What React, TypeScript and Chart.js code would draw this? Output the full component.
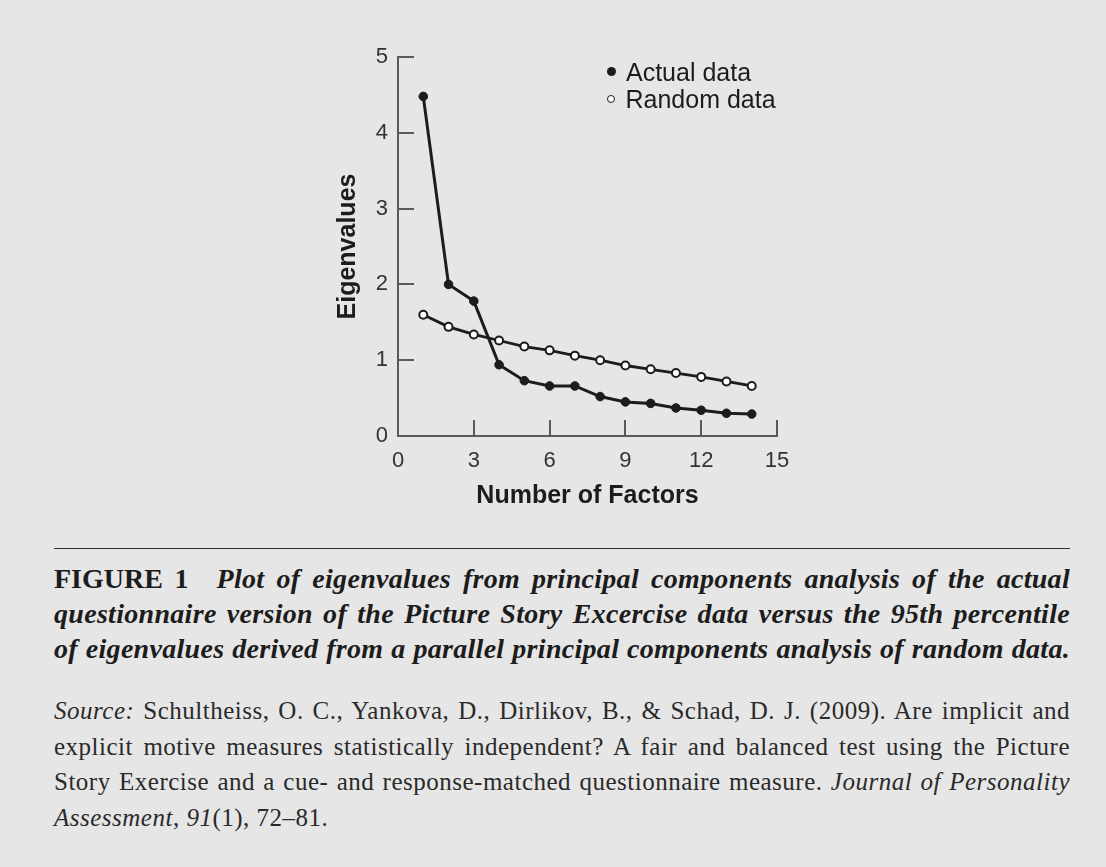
import React, { useEffect, useRef } from "react";
import { Chart, registerables } from "chart.js";

Chart.register(...registerables);

const factors = [1, 2, 3, 4, 5, 6, 7, 8, 9, 10, 11, 12, 13, 14];
const actualEigenvalues = [4.48, 2.0, 1.78, 0.94, 0.73, 0.66, 0.66, 0.52, 0.45, 0.43, 0.37, 0.34, 0.3, 0.29];
const randomEigenvalues = [1.6, 1.44, 1.34, 1.26, 1.18, 1.13, 1.06, 1.0, 0.93, 0.88, 0.83, 0.78, 0.72, 0.66];
const xTickValues = [0, 3, 6, 9, 12, 15];
const yTickValues = [0, 1, 2, 3, 4, 5];
const seriesNames = ["Actual data", "Random data"];
const xAxisTitle = "Number of Factors";
const yAxisTitle = "Eigenvalues";

const BG = "#e6e6e6";
const INK = "#1c1c1c";
const AXIS = "#5a5a5a";
const SANS = "'Liberation Sans', Arial, sans-serif";
const SERIF = "'Liberation Serif', 'Times New Roman', serif";

const inwardTicks = {
  id: "inwardTicks",
  beforeDatasetsDraw(chart: any) {
    const { ctx, chartArea, scales } = chart;
    const x = scales.x;
    const y = scales.y;
    ctx.save();
    ctx.strokeStyle = AXIS;
    ctx.lineWidth = 2;
    yTickValues.forEach((v) => {
      if (v === 0) return;
      const py = Math.round(y.getPixelForValue(v));
      ctx.beginPath();
      ctx.moveTo(chartArea.left, py);
      ctx.lineTo(chartArea.left + 16, py);
      ctx.stroke();
    });
    xTickValues.forEach((v) => {
      if (v === 0) return;
      const px = Math.round(x.getPixelForValue(v));
      ctx.beginPath();
      ctx.moveTo(px, chartArea.bottom);
      ctx.lineTo(px, chartArea.bottom - 16);
      ctx.stroke();
    });
    ctx.restore();
  },
};

function ChartView() {
  const ref = useRef<HTMLCanvasElement | null>(null);
  useEffect(() => {
    if (!ref.current) return;
    const chart = new Chart(ref.current, {
      type: "line",
      data: {
        datasets: [
          {
            label: seriesNames[0],
            data: factors.map((f, i) => ({ x: f, y: actualEigenvalues[i] })),
            borderColor: INK,
            backgroundColor: INK,
            borderWidth: 3,
            pointRadius: 4.3,
            pointBackgroundColor: INK,
            pointBorderColor: INK,
            pointBorderWidth: 1,
            tension: 0,
          },
          {
            label: seriesNames[1],
            data: factors.map((f, i) => ({ x: f, y: randomEigenvalues[i] })),
            borderColor: INK,
            backgroundColor: "#ffffff",
            borderWidth: 2.8,
            pointRadius: 4,
            pointBackgroundColor: "#ffffff",
            pointBorderColor: INK,
            pointBorderWidth: 2,
            tension: 0,
          },
        ],
      },
      options: {
        animation: false,
        responsive: false,
        maintainAspectRatio: false,
        events: [],
        layout: { padding: { left: 328, right: 329, top: 57, bottom: 29 } },
        plugins: { legend: { display: false }, tooltip: { enabled: false } },
        scales: {
          x: {
            type: "linear",
            min: 0,
            max: 15,
            afterFit: (s: any) => {
              s.height = 75;
            },
            afterBuildTicks: (s: any) => {
              s.ticks = xTickValues.map((v) => ({ value: v }));
            },
            grid: { display: false, drawTicks: false },
            border: { display: true, color: AXIS, width: 2 },
            ticks: {
              padding: 12,
              color: "#333",
              font: { family: SANS, size: 22 },
            },
            title: {
              display: true,
              text: xAxisTitle,
              color: INK,
              padding: 0,
              font: { family: SANS, size: 25, weight: "bold" },
            },
          },
          y: {
            type: "linear",
            min: 0,
            max: 5,
            afterFit: (s: any) => {
              s.width = 70;
            },
            afterBuildTicks: (s: any) => {
              s.ticks = yTickValues.map((v) => ({ value: v }));
            },
            grid: { display: false, drawTicks: false },
            border: { display: true, color: AXIS, width: 2 },
            ticks: {
              padding: 10,
              color: "#333",
              font: { family: SANS, size: 22 },
            },
            title: {
              display: true,
              text: yAxisTitle,
              color: INK,
              padding: { top: 5, bottom: 0 },
              font: { family: SANS, size: 25, weight: "bold" },
            },
          },
        },
      },
      plugins: [inwardTicks],
    } as any);
    return () => chart.destroy();
  }, []);
  return (
    <canvas
      ref={ref}
      width={1106}
      height={540}
      style={{ position: "absolute", left: 0, top: 0, width: 1106, height: 540 }}
    />
  );
}

function LegendItem({ top, filled, label }: { top: number; filled: boolean; label: string }) {
  return (
    <div style={{ position: "absolute", left: 607, top, height: 30, display: "flex", alignItems: "center" }}>
      <span
        style={{
          display: "inline-block",
          width: filled ? 9 : 6,
          height: filled ? 9 : 6,
          borderRadius: "50%",
          background: filled ? INK : "#fff",
          border: filled ? "none" : `1.6px solid ${INK}`,
          marginRight: filled ? 10 : 10.5,
        }}
      />
      <span style={{ fontFamily: SANS, fontSize: 25, color: INK, lineHeight: "30px" }}>{label}</span>
    </div>
  );
}

const justifyLine: React.CSSProperties = {
  textAlign: "justify",
  textAlignLast: "justify" as any,
  whiteSpace: "nowrap",
};

export default function App() {
  return (
    <div
      style={{
        position: "fixed",
        left: 0,
        top: 0,
        width: 1106,
        height: 867,
        background: BG,
        overflow: "hidden",
      }}
    >
      <ChartView />
      <LegendItem top={56.5} filled={true} label={seriesNames[0]} />
      <LegendItem top={84} filled={false} label={seriesNames[1]} />
      <div style={{ position: "absolute", left: 54, top: 547.5, width: 1016, height: 1.6, background: "#333" }} />
      <div
        style={{
          position: "absolute",
          left: 54,
          top: 560.5,
          width: 1016,
          fontFamily: SERIF,
          fontSize: 28,
          lineHeight: "35px",
          fontWeight: "bold",
          fontStyle: "italic",
          color: INK,
          letterSpacing: "0.3px",
        }}
      >
        <div style={justifyLine}>
          <span style={{ fontStyle: "normal", letterSpacing: 0 }}>FIGURE 1</span>
          <span style={{ display: "inline-block", width: 28 }} />
          {"Plot of eigenvalues from principal components analysis of the actual"}
        </div>
        <div style={justifyLine}>
          questionnaire version of the Picture Story Excercise data versus the 95th percentile
        </div>
        <div style={justifyLine}>
          of eigenvalues derived from a parallel principal components analysis of random data.
        </div>
      </div>
      <div
        style={{
          position: "absolute",
          left: 54,
          top: 693,
          width: 1016,
          fontFamily: SERIF,
          fontSize: 25,
          lineHeight: "35.7px",
          color: "#2a2a2a",
          letterSpacing: "0.5px",
        }}
      >
        <div style={justifyLine}>
          <i>Source:</i> Schultheiss, O. C., Yankova, D., Dirlikov, B., &amp; Schad, D. J. (2009). Are implicit and
        </div>
        <div style={justifyLine}>
          explicit motive measures statistically independent? A fair and balanced test using the Picture
        </div>
        <div style={justifyLine}>
          Story Exercise and a cue- and response-matched questionnaire measure. <i>Journal of Personality</i>
        </div>
        <div style={{ whiteSpace: "nowrap" }}>
          <i>Assessment</i>, <i>91</i>(1), 72–81.
        </div>
      </div>
    </div>
  );
}
